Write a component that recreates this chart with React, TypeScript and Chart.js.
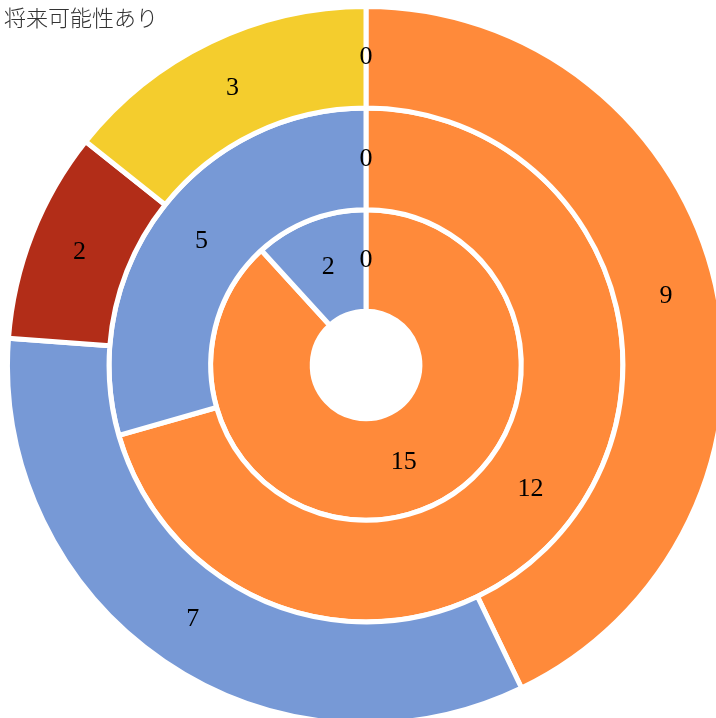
import React, { useEffect, useRef } from "react";
import { Chart, registerables } from "chart.js";

Chart.register(...registerables);

const categories = ["区分A", "区分B", "区分C", "区分D", "区分E"];
const outerValues = [0, 9, 7, 2, 3];
const middleValues = [0, 12, 5];
const innerValues = [0, 15, 2];
const segmentColors = ["#FF8A3A", "#FF8A3A", "#7799D6", "#B22D18", "#F4CD2D"];
const titleText = "将来可能性あり";

const labelPlugin = {
  id: "arcLabels",
  afterDatasetsDraw(chart: any) {
    const ctx = chart.ctx;
    ctx.save();
    ctx.font = "26px 'Liberation Serif', serif";
    ctx.fillStyle = "#000";
    ctx.textAlign = "center";
    ctx.textBaseline = "middle";
    chart.data.datasets.forEach((ds: any, di: number) => {
      const meta = chart.getDatasetMeta(di);
      meta.data.forEach((arc: any, i: number) => {
        const p = arc.tooltipPosition();
        ctx.fillText(String(ds.data[i]), p.x, p.y);
      });
    });
    ctx.restore();
  },
};

export default function App() {
  const ref = useRef<HTMLCanvasElement>(null);
  useEffect(() => {
    if (!ref.current) return;
    const chart = new Chart(ref.current, {
      type: "doughnut",
      data: {
        labels: categories,
        datasets: [
          { data: outerValues, backgroundColor: segmentColors, borderColor: "#fff", borderWidth: 5 },
          { data: middleValues, backgroundColor: segmentColors, borderColor: "#fff", borderWidth: 5 },
          { data: innerValues, backgroundColor: segmentColors, borderColor: "#fff", borderWidth: 5 },
        ],
      },
      options: {
        animation: false,
        responsive: false,
        cutout: "15%",
        layout: { padding: 0 },
        plugins: { legend: { display: false }, tooltip: { enabled: false }, title: { display: false } },
      },
      plugins: [labelPlugin],
    });
    return () => chart.destroy();
  }, []);
  return (
    <div style={{ position: "fixed", left: 0, top: 0, width: 716, height: 718, overflow: "hidden", background: "#fff" }}>
      <canvas ref={ref} width={722} height={722} style={{ position: "absolute", left: 5, top: 4 }} />
      <div
        style={{
          position: "absolute",
          left: 4,
          top: 0,
          fontFamily: "'Noto Sans CJK JP', sans-serif",
          fontSize: 22,
          fontWeight: 300,
          color: "#333",
          lineHeight: "32px",
        }}
      >
        {titleText}
      </div>
    </div>
  );
}
